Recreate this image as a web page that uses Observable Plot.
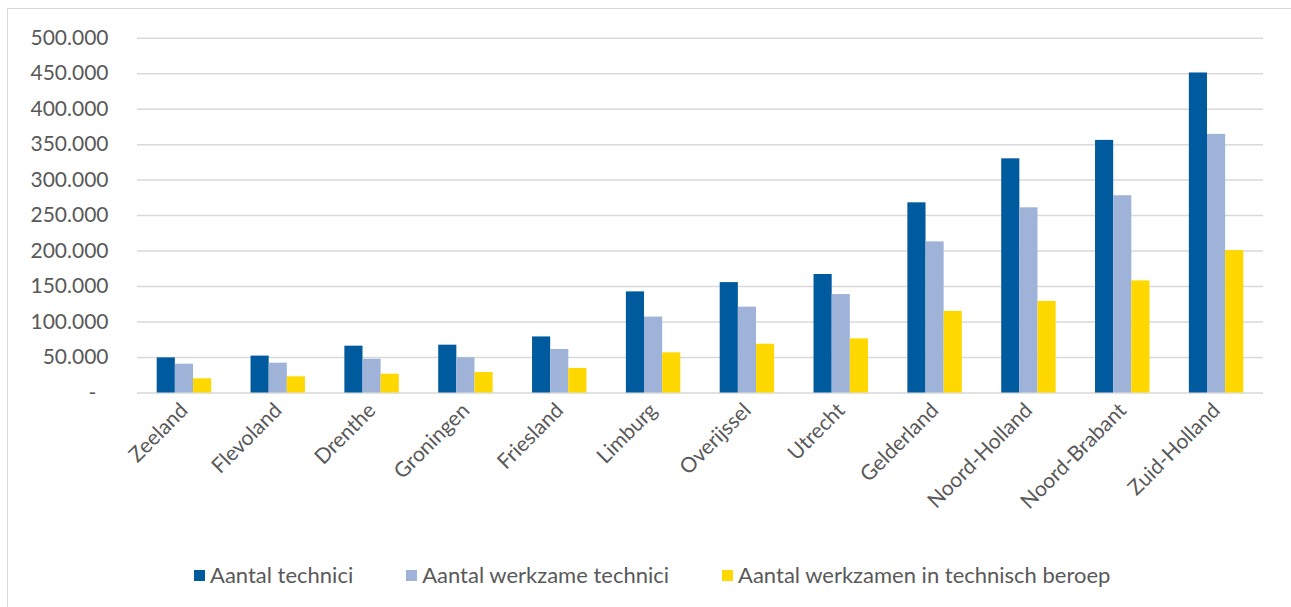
<!DOCTYPE html>
<html>
<head>
<meta charset="utf-8">
<script src="https://cdn.jsdelivr.net/npm/d3@7"></script>
<script src="https://cdn.jsdelivr.net/npm/@observablehq/plot@0.6"></script>
<style>
  html, body { margin: 0; padding: 0; background: #fff; }
  #wrap { position: relative; width: 1291px; height: 607px; overflow: hidden; background: #fff; font-family: Lato, "Open Sans", sans-serif; }
  #frame { position: absolute; left: 7px; top: 8px; width: 1400px; height: 700px; border-left: 1.5px solid #d9d9d9; border-top: 1.5px solid #d9d9d9; }
  .layer { position: absolute; left: 0; top: 0; }
  #legend { position: absolute; left: 194px; top: 562px; display: flex; gap: 53px; color: #595959; font-size: 22px; line-height: 26px; }
  #legend .item { display: flex; align-items: center; }
  #legend .sw { width: 11px; height: 11px; margin-right: 5px; }
</style>
</head>
<body>
<div id="wrap">
  <div id="frame"></div>
  <div id="bg" class="layer"></div>
  <div id="fg" class="layer"></div>
  <div id="legend"></div>
</div>
<script>
const regions = ["Zeeland","Flevoland","Drenthe","Groningen","Friesland","Limburg","Overijssel","Utrecht","Gelderland","Noord-Holland","Noord-Brabant","Zuid-Holland"];
const seriesNames = ["Aantal technici","Aantal werkzame technici","Aantal werkzamen in technisch beroep"];
const technici =        [49500, 52000, 66000, 67400, 79000, 142500, 155600, 167000, 268000, 330000, 356000, 451000];
const werkzameTechnici = [40600, 42000, 47600, 49600, 61300, 107000, 121000, 138700, 213000, 261000, 278000, 364500];
const werkzamenBeroep =  [20000, 22800, 26500, 28900, 34500, 56600, 68700, 76300, 115000, 129000, 158000, 200700];
const yTicks = [0, 50000, 100000, 150000, 200000, 250000, 300000, 350000, 400000, 450000, 500000];
const colors = ["#005a9e", "#9fb3d9", "#ffd800"];

const seriesValues = [technici, werkzameTechnici, werkzamenBeroep];
const data = [];
regions.forEach((r, i) => seriesNames.forEach((s, j) => data.push({region: r, series: s, value: seriesValues[j][i]})));

const W = 1291, H = 545;
const margins = {marginLeft: 137, marginRight: 28, marginTop: 37.7, marginBottom: 152.5};
const fmt = d => d === 0 ? "-\u2007" : d3.format(",")(d).replace(/,/g, ".");

const bg = Plot.plot({
  width: W, height: H, ...margins,
  style: {fontFamily: "Lato, 'Open Sans', sans-serif", fontSize: "21px", color: "#595959", background: "transparent"},
  x: {domain: regions, paddingInner: 0.42, paddingOuter: 0.21, round: false, axis: null},
  y: {domain: [0, 500000], axis: null},
  marks: [
    Plot.gridY(yTicks, {stroke: "#d9d9d9", strokeOpacity: 1, strokeWidth: 1.5}),
    Plot.axisY(yTicks, {tickSize: 0, tickPadding: 29, tickFormat: fmt, label: null}),
    Plot.axisX({tickSize: 0, tickPadding: 14, tickRotate: -45, label: null})
  ]
});
document.getElementById("bg").appendChild(bg);

const fg = Plot.plot({
  width: W, height: H, ...margins,
  style: {background: "transparent"},
  fx: {domain: regions, paddingInner: 0.42, paddingOuter: 0.21, round: false, axis: null, label: null},
  x: {domain: seriesNames, padding: 0, round: false, axis: null},
  y: {domain: [0, 500000], axis: null},
  color: {domain: seriesNames, range: colors},
  marks: [
    Plot.barY(data, {fx: "region", x: "series", y: "value", fill: "series"})
  ]
});
document.getElementById("fg").appendChild(fg);

const legend = document.getElementById("legend");
seriesNames.forEach((s, i) => {
  const it = document.createElement("div");
  it.className = "item";
  const sw = document.createElement("span");
  sw.className = "sw";
  sw.style.background = colors[i];
  const tx = document.createElement("span");
  tx.textContent = s;
  it.appendChild(sw); it.appendChild(tx);
  legend.appendChild(it);
});
</script>
</body>
</html>
